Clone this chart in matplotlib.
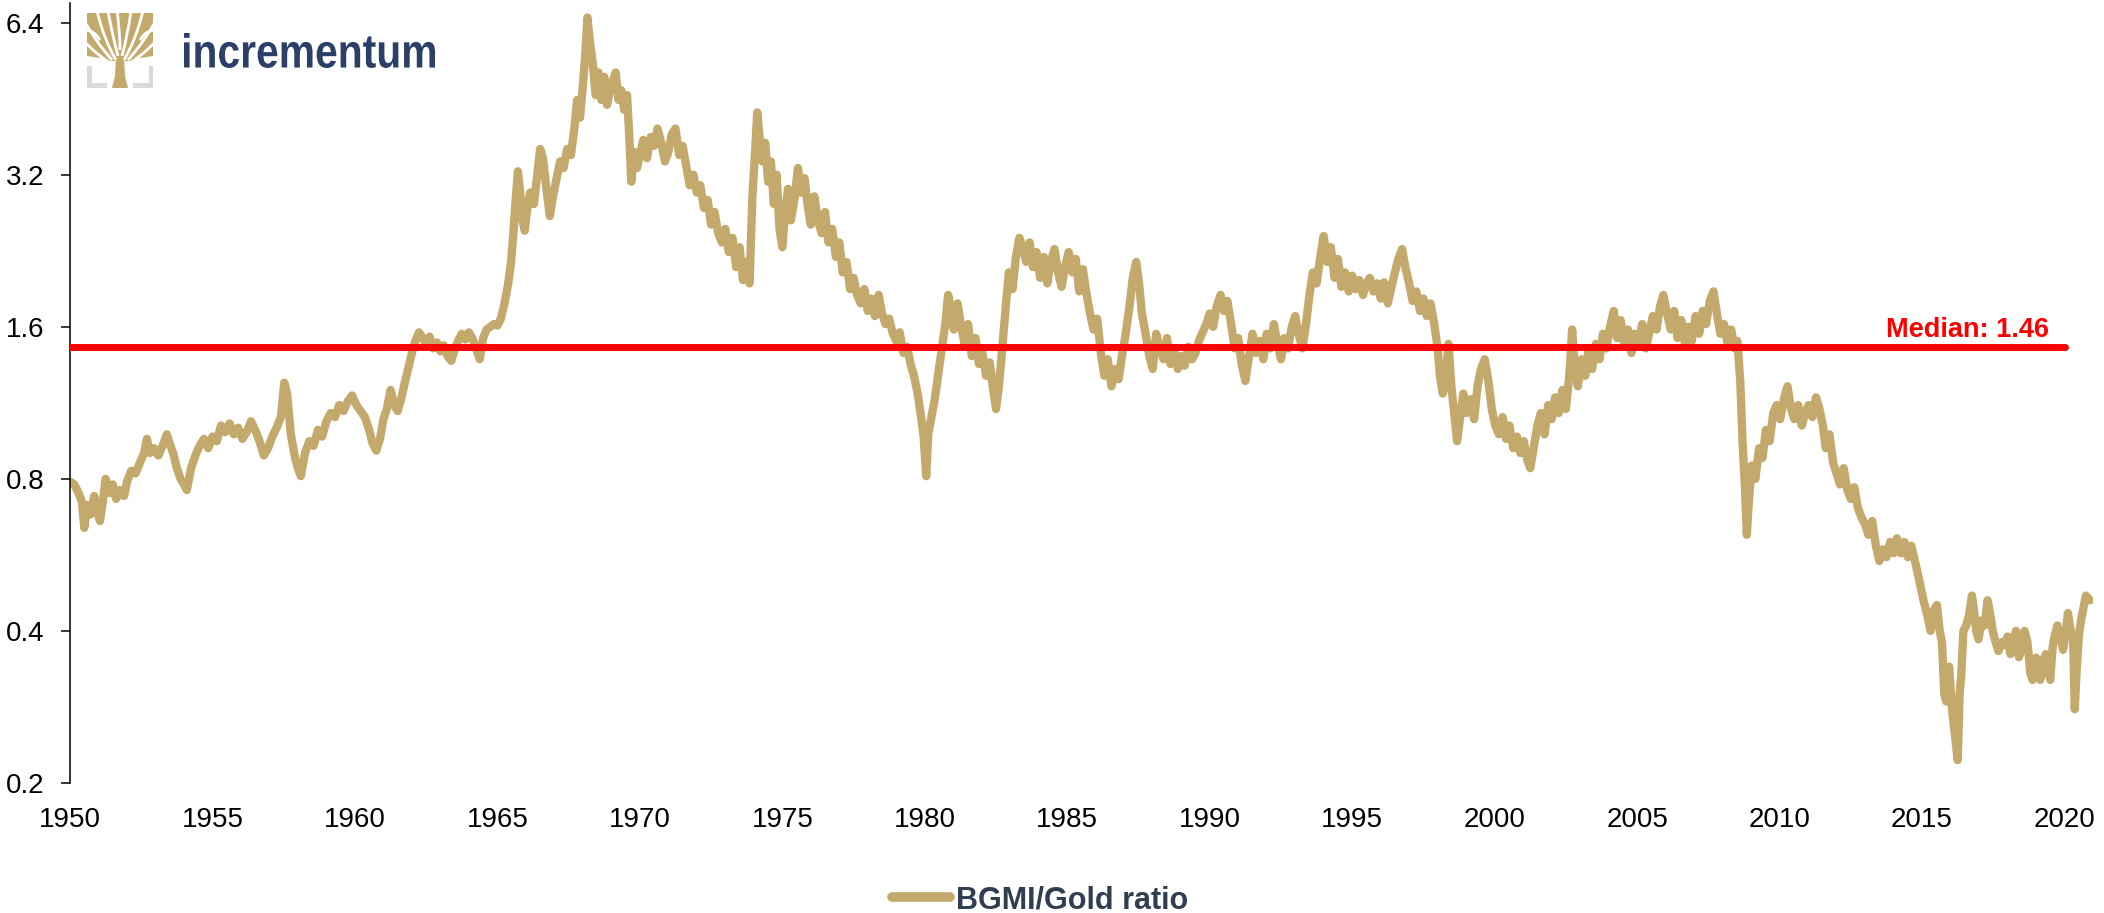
import matplotlib
matplotlib.use('Agg')
import matplotlib.pyplot as plt
from matplotlib.lines import Line2D
from matplotlib.patches import Rectangle, Polygon, PathPatch
from matplotlib.path import Path
from matplotlib.textpath import TextPath
from matplotlib.font_manager import FontProperties
from matplotlib.transforms import Affine2D

# ---------------- data ----------------
dates = [
    1950.0, 1950.15, 1950.3, 1950.42, 1950.5, 1950.6, 1950.72, 1950.85, 1950.95, 1951.05,
    1951.15, 1951.25, 1951.38, 1951.5, 1951.62, 1951.75, 1951.9, 1952.0, 1952.15, 1952.3,
    1952.45, 1952.6, 1952.7, 1952.8, 1952.95, 1953.1, 1953.25, 1953.4, 1953.5, 1953.62,
    1953.75, 1953.88, 1954.0, 1954.1, 1954.25, 1954.4, 1954.55, 1954.7, 1954.85, 1955.0,
    1955.15, 1955.3, 1955.45, 1955.6, 1955.75, 1955.9, 1956.05, 1956.2, 1956.35, 1956.5,
    1956.65, 1956.8, 1956.95, 1957.1, 1957.25, 1957.4, 1957.52, 1957.62, 1957.75, 1957.9,
    1958.0, 1958.1, 1958.25, 1958.4, 1958.55, 1958.7, 1958.85, 1959.0, 1959.15, 1959.3,
    1959.45, 1959.6, 1959.75, 1959.9, 1960.05, 1960.2, 1960.35, 1960.5, 1960.62, 1960.75,
    1960.88, 1961.0, 1961.12, 1961.25, 1961.38, 1961.5, 1961.62, 1961.75, 1961.88, 1962.0,
    1962.12, 1962.25, 1962.38, 1962.5, 1962.62, 1962.75, 1962.88, 1963.0, 1963.12, 1963.25,
    1963.38, 1963.5, 1963.62, 1963.75, 1963.88, 1964.0, 1964.12, 1964.25, 1964.38, 1964.5,
    1964.62, 1964.75, 1964.88, 1965.0, 1965.12, 1965.25, 1965.38, 1965.48, 1965.56, 1965.64,
    1965.72, 1965.8, 1965.88, 1965.96, 1966.05, 1966.15, 1966.28, 1966.4, 1966.5, 1966.6,
    1966.72, 1966.84, 1966.95, 1967.08, 1967.2, 1967.32, 1967.45, 1967.58, 1967.7, 1967.8,
    1967.9, 1968.0, 1968.08, 1968.16, 1968.24, 1968.35, 1968.45, 1968.55, 1968.65, 1968.75,
    1968.85, 1968.95, 1969.05, 1969.15, 1969.25, 1969.35, 1969.45, 1969.55, 1969.62, 1969.7,
    1969.8, 1969.9, 1970.0, 1970.12, 1970.25, 1970.38, 1970.5, 1970.62, 1970.75, 1970.88,
    1971.0, 1971.12, 1971.25, 1971.38, 1971.5, 1971.62, 1971.75, 1971.88, 1972.0, 1972.12,
    1972.25, 1972.38, 1972.5, 1972.62, 1972.75, 1972.88, 1973.0, 1973.12, 1973.25, 1973.38,
    1973.5, 1973.62, 1973.75, 1973.85, 1973.95, 1974.05, 1974.12, 1974.2, 1974.3, 1974.4,
    1974.5, 1974.6, 1974.7, 1974.8, 1974.9, 1975.0, 1975.1, 1975.2, 1975.3, 1975.42,
    1975.55, 1975.65, 1975.78, 1975.9, 1976.0, 1976.12, 1976.25, 1976.38, 1976.5, 1976.62,
    1976.75, 1976.88, 1977.0, 1977.12, 1977.25, 1977.38, 1977.5, 1977.62, 1977.75, 1977.88,
    1978.0, 1978.12, 1978.25, 1978.38, 1978.5, 1978.62, 1978.75, 1978.88, 1979.0, 1979.12,
    1979.25, 1979.38, 1979.5, 1979.62, 1979.75, 1979.88, 1979.96, 1980.05, 1980.12, 1980.22,
    1980.35, 1980.48, 1980.6, 1980.72, 1980.82, 1980.92, 1981.02, 1981.15, 1981.28, 1981.4,
    1981.52, 1981.65, 1981.78, 1981.9, 1982.02, 1982.15, 1982.28, 1982.4, 1982.5, 1982.6,
    1982.72, 1982.84, 1982.95, 1983.08, 1983.2, 1983.32, 1983.44, 1983.56, 1983.68, 1983.8,
    1983.92, 1984.05, 1984.18, 1984.3, 1984.42, 1984.55, 1984.68, 1984.8, 1984.92, 1985.05,
    1985.18, 1985.3, 1985.42, 1985.55, 1985.68, 1985.8, 1985.92, 1986.05, 1986.18, 1986.3,
    1986.42, 1986.55, 1986.68, 1986.8, 1986.92, 1987.05, 1987.18, 1987.3, 1987.42, 1987.52,
    1987.62, 1987.75, 1987.88, 1988.0, 1988.12, 1988.25, 1988.38, 1988.5, 1988.62, 1988.75,
    1988.88, 1989.0, 1989.12, 1989.25, 1989.38, 1989.5, 1989.62, 1989.75, 1989.88, 1990.0,
    1990.12, 1990.25, 1990.38, 1990.5, 1990.62, 1990.75, 1990.88, 1991.0, 1991.12, 1991.25,
    1991.38, 1991.5, 1991.62, 1991.75, 1991.88, 1992.0, 1992.12, 1992.25, 1992.38, 1992.5,
    1992.62, 1992.75, 1992.88, 1993.0, 1993.12, 1993.25, 1993.38, 1993.5, 1993.62, 1993.75,
    1993.88, 1994.0, 1994.12, 1994.25, 1994.38, 1994.5, 1994.62, 1994.75, 1994.88, 1995.0,
    1995.12, 1995.25, 1995.38, 1995.5, 1995.62, 1995.75, 1995.88, 1996.0, 1996.12, 1996.25,
    1996.38, 1996.5, 1996.62, 1996.75, 1996.88, 1997.0, 1997.12, 1997.25, 1997.38, 1997.5,
    1997.62, 1997.75, 1997.88, 1998.0, 1998.08, 1998.18, 1998.28, 1998.38, 1998.48, 1998.58,
    1998.68, 1998.78, 1998.9, 1999.02, 1999.15, 1999.28, 1999.4, 1999.52, 1999.65, 1999.78,
    1999.9, 2000.02, 2000.15, 2000.28, 2000.4, 2000.52, 2000.65, 2000.78, 2000.9, 2001.02,
    2001.15, 2001.25, 2001.38, 2001.5, 2001.62, 2001.75, 2001.88, 2002.0, 2002.12, 2002.25,
    2002.38, 2002.5, 2002.62, 2002.72, 2002.8, 2002.92, 2003.05, 2003.18, 2003.3, 2003.42,
    2003.55, 2003.68, 2003.8, 2003.92, 2004.05, 2004.18, 2004.3, 2004.42, 2004.55, 2004.68,
    2004.8, 2004.92, 2005.05, 2005.18, 2005.3, 2005.42, 2005.55, 2005.68, 2005.8, 2005.92,
    2006.05, 2006.18, 2006.3, 2006.42, 2006.55, 2006.68, 2006.8, 2006.92, 2007.05, 2007.18,
    2007.3, 2007.42, 2007.55, 2007.68, 2007.8, 2007.92, 2008.05, 2008.18, 2008.3, 2008.42,
    2008.52, 2008.62, 2008.7, 2008.78, 2008.85, 2008.92, 2009.02, 2009.15, 2009.28, 2009.4,
    2009.52, 2009.65, 2009.78, 2009.9, 2010.02, 2010.15, 2010.28, 2010.4, 2010.52, 2010.65,
    2010.78, 2010.9, 2011.02, 2011.15, 2011.28, 2011.4, 2011.52, 2011.62, 2011.75, 2011.88,
    2012.0, 2012.12, 2012.25, 2012.38, 2012.5, 2012.62, 2012.75, 2012.88, 2013.0, 2013.12,
    2013.25, 2013.38, 2013.5, 2013.62, 2013.75, 2013.88, 2014.0, 2014.12, 2014.25, 2014.38,
    2014.5, 2014.62, 2014.75, 2014.9, 2015.05, 2015.18, 2015.3, 2015.42, 2015.52, 2015.62,
    2015.7, 2015.78, 2015.85, 2015.95, 2016.05, 2016.15, 2016.25, 2016.32, 2016.38, 2016.45,
    2016.55, 2016.65, 2016.75, 2016.82, 2016.9, 2016.98, 2017.1, 2017.2, 2017.3, 2017.4,
    2017.48, 2017.58, 2017.68, 2017.8, 2017.9, 2018.0, 2018.1, 2018.2, 2018.3, 2018.4,
    2018.5, 2018.6, 2018.7, 2018.8, 2018.88, 2019.0, 2019.08, 2019.15, 2019.25, 2019.35,
    2019.45, 2019.5, 2019.58, 2019.65, 2019.75, 2019.85, 2019.95, 2020.05, 2020.12, 2020.22,
    2020.3, 2020.36, 2020.42, 2020.5, 2020.58, 2020.65, 2020.75, 2020.82, 2020.9,
]

ratio = [
    0.79, 0.78, 0.75, 0.72, 0.64, 0.71, 0.68, 0.74, 0.69, 0.66,
    0.72, 0.80, 0.75, 0.78, 0.73, 0.76, 0.74, 0.79, 0.83, 0.82,
    0.86, 0.90, 0.96, 0.90, 0.92, 0.89, 0.93, 0.98, 0.94, 0.90,
    0.84, 0.80, 0.78, 0.76, 0.84, 0.89, 0.93, 0.96, 0.92, 0.97,
    0.95, 1.02, 0.99, 1.03, 0.98, 1.01, 0.96, 0.99, 1.04, 1.00,
    0.95, 0.89, 0.92, 0.97, 1.01, 1.06, 1.24, 1.18, 0.98, 0.88,
    0.84, 0.81, 0.90, 0.95, 0.93, 1.00, 0.97, 1.04, 1.08, 1.06,
    1.12, 1.09, 1.14, 1.17, 1.12, 1.09, 1.06, 1.00, 0.94, 0.91,
    0.96, 1.05, 1.10, 1.20, 1.12, 1.09, 1.15, 1.24, 1.33, 1.42,
    1.50, 1.56, 1.52, 1.48, 1.53, 1.45, 1.49, 1.43, 1.47, 1.40,
    1.37, 1.44, 1.50, 1.55, 1.51, 1.56, 1.52, 1.45, 1.38, 1.52,
    1.58, 1.60, 1.62, 1.61, 1.66, 1.78, 1.95, 2.15, 2.45, 2.85,
    3.25, 2.95, 2.60, 2.48, 2.75, 2.95, 2.80, 3.20, 3.60, 3.45,
    3.00, 2.65, 2.90, 3.15, 3.40, 3.30, 3.60, 3.50, 3.95, 4.50,
    4.15, 4.80, 5.50, 6.55, 5.90, 5.30, 4.60, 5.10, 4.50, 5.00,
    4.40, 4.70, 4.90, 5.10, 4.50, 4.70, 4.30, 4.60, 3.90, 3.10,
    3.55, 3.30, 3.50, 3.75, 3.45, 3.80, 3.65, 3.95, 3.70, 3.40,
    3.55, 3.85, 3.95, 3.50, 3.65, 3.35, 3.05, 3.20, 2.95, 3.05,
    2.75, 2.85, 2.55, 2.70, 2.45, 2.35, 2.50, 2.25, 2.40, 2.10,
    2.30, 1.98, 2.15, 1.95, 2.90, 3.60, 4.25, 3.80, 3.40, 3.70,
    3.10, 3.40, 2.80, 3.20, 2.50, 2.30, 2.70, 3.00, 2.60, 2.85,
    3.30, 2.95, 3.15, 2.75, 2.55, 2.90, 2.60, 2.45, 2.70, 2.35,
    2.50, 2.20, 2.35, 2.05, 2.15, 1.90, 2.00, 1.85, 1.78, 1.90,
    1.72, 1.82, 1.68, 1.85, 1.70, 1.62, 1.66, 1.55, 1.50, 1.56,
    1.42, 1.46, 1.35, 1.28, 1.18, 1.05, 0.97, 0.81, 0.98, 1.05,
    1.15, 1.30, 1.45, 1.62, 1.85, 1.72, 1.58, 1.78, 1.60, 1.48,
    1.62, 1.40, 1.52, 1.35, 1.42, 1.28, 1.36, 1.20, 1.10, 1.22,
    1.45, 1.75, 2.05, 1.90, 2.20, 2.40, 2.30, 2.15, 2.35, 2.10,
    2.25, 2.00, 2.20, 1.95, 2.15, 2.28, 2.05, 1.92, 2.10, 2.25,
    2.05, 2.18, 1.88, 2.08, 1.85, 1.70, 1.58, 1.66, 1.42, 1.28,
    1.38, 1.22, 1.32, 1.26, 1.40, 1.55, 1.75, 2.00, 2.15, 1.95,
    1.70, 1.55, 1.40, 1.32, 1.55, 1.45, 1.38, 1.52, 1.35, 1.44,
    1.32, 1.40, 1.34, 1.46, 1.38, 1.42, 1.50, 1.56, 1.62, 1.70,
    1.60, 1.76, 1.85, 1.72, 1.80, 1.62, 1.45, 1.52, 1.35, 1.25,
    1.40, 1.55, 1.42, 1.50, 1.38, 1.55, 1.45, 1.62, 1.48, 1.38,
    1.52, 1.45, 1.60, 1.68, 1.55, 1.45, 1.62, 1.85, 2.05, 1.95,
    2.20, 2.42, 2.15, 2.30, 2.00, 2.18, 1.92, 2.05, 1.88, 2.02,
    1.90, 1.98, 1.85, 1.95, 2.00, 1.88, 1.95, 1.82, 1.96, 1.78,
    1.92, 2.05, 2.18, 2.28, 2.08, 1.95, 1.80, 1.88, 1.72, 1.82,
    1.68, 1.78, 1.62, 1.45, 1.28, 1.18, 1.26, 1.48, 1.22, 1.08,
    0.95, 1.05, 1.18, 1.08, 1.15, 1.05, 1.22, 1.32, 1.38, 1.25,
    1.10, 1.02, 0.98, 1.06, 0.96, 1.02, 0.92, 0.97, 0.90, 0.95,
    0.87, 0.84, 0.93, 1.02, 1.08, 0.98, 1.12, 1.05, 1.16, 1.08,
    1.20, 1.10, 1.28, 1.58, 1.35, 1.22, 1.38, 1.28, 1.45, 1.32,
    1.48, 1.38, 1.55, 1.45, 1.60, 1.72, 1.52, 1.65, 1.48, 1.58,
    1.42, 1.55, 1.48, 1.62, 1.45, 1.55, 1.68, 1.58, 1.75, 1.85,
    1.70, 1.58, 1.72, 1.52, 1.65, 1.48, 1.60, 1.50, 1.68, 1.55,
    1.72, 1.62, 1.80, 1.88, 1.70, 1.55, 1.62, 1.48, 1.58, 1.45,
    1.50, 1.25, 0.95, 0.78, 0.62, 0.72, 0.85, 0.80, 0.92, 0.88,
    1.00, 0.95, 1.08, 1.12, 1.05, 1.15, 1.22, 1.10, 1.05, 1.12,
    1.02, 1.08, 1.12, 1.06, 1.16, 1.10, 1.02, 0.92, 0.98, 0.86,
    0.82, 0.78, 0.84, 0.76, 0.73, 0.77, 0.70, 0.67, 0.65, 0.62,
    0.66, 0.59, 0.55, 0.58, 0.56, 0.60, 0.57, 0.61, 0.57, 0.60,
    0.56, 0.59, 0.55, 0.505, 0.46, 0.43, 0.40, 0.44, 0.45, 0.40,
    0.38, 0.30, 0.29, 0.34, 0.28, 0.25, 0.222, 0.30, 0.33, 0.40,
    0.41, 0.43, 0.47, 0.44, 0.40, 0.385, 0.42, 0.41, 0.46, 0.43,
    0.40, 0.38, 0.365, 0.38, 0.375, 0.39, 0.36, 0.38, 0.40, 0.355,
    0.37, 0.40, 0.38, 0.33, 0.32, 0.354, 0.34, 0.32, 0.35, 0.36,
    0.33, 0.32, 0.37, 0.39, 0.41, 0.39, 0.367, 0.40, 0.434, 0.40,
    0.39, 0.28, 0.33, 0.39, 0.42, 0.44, 0.47, 0.465, 0.46,
]

median_value = 1.46
median_span = [1950, 2020]
median_label = "Median: 1.46"
series_label = "BGMI/Gold ratio"
y_ticks = [0.2, 0.4, 0.8, 1.6, 3.2, 6.4]
y_ticklabels = ["0.2", "0.4", "0.8", "1.6", "3.2", "6.4"]
x_ticks = list(range(1950, 2021, 5))
x_ticklabels = [str(y) for y in x_ticks]

# ---------------- styling ----------------
GOLD = '#C4A96C'
RED = '#FF0000'
NAVY = '#2C3F68'
LEGEND_TXT = '#2F3E50'
FONT = 'Liberation Sans'

W, H = 2104, 913
fig = plt.figure(figsize=(W / 100, H / 100), dpi=100)
ax = fig.add_axes([70 / W, 1 - 783 / H, (2093 - 70) / W, (783 - 3) / H])

ax.plot(dates, ratio, color=GOLD, lw=6.0, solid_joinstyle='round',
        solid_capstyle='round', zorder=2)
ax.plot(median_span, [median_value, median_value], color=RED, lw=5,
        solid_capstyle='round', zorder=3)
ax.text(2019.47, 1.527, median_label, ha='right', va='baseline',
        fontsize=19.5, fontweight='bold', color=RED, family=FONT, zorder=4)

ax.set_yscale('log', base=2)
ax.set_ylim(0.2, 7.0)
ax.set_xlim(1950, 2021)
ax.set_yticks(y_ticks)
ax.set_yticklabels(y_ticklabels)
ax.yaxis.set_minor_locator(matplotlib.ticker.NullLocator())
ax.set_xticks(x_ticks)
ax.set_xticklabels(x_ticklabels)

for s in ['top', 'right', 'bottom']:
    ax.spines[s].set_visible(False)
ax.spines['left'].set_linewidth(1.1)
ax.tick_params(axis='y', length=6.5, width=1.1, pad=12, labelsize=20)
ax.tick_params(axis='x', length=0, pad=17, labelsize=20)
for lab in ax.get_xticklabels() + ax.get_yticklabels():
    lab.set_family(FONT)

# legend
handle = Line2D([], [], color=GOLD, lw=7, solid_capstyle='round')
leg = fig.legend([handle], [series_label], loc='center',
                 bbox_to_anchor=(1040 / W, 1 - 900 / H), frameon=False,
                 prop=FontProperties(family=FONT, weight='bold', size=22),
                 handlelength=1.9, handletextpad=0.2, borderpad=0,
                 borderaxespad=0)
for t in leg.get_texts():
    t.set_color(LEGEND_TXT)

# ---------------- logo (pixel coordinates, origin top-left) ----------------
pix = Affine2D().scale(1 / W, -1 / H).translate(0, 1) + fig.transFigure

crown = Rectangle((87, 13), 66, 48, transform=pix, fc=GOLD, ec='none', zorder=10)
fig.patches.append(crown)
trunk = Polygon([(112, 88), (128, 88), (125, 76), (124, 58), (116, 58), (115, 76)],
                closed=True, transform=pix, fc=GOLD, ec='none', zorder=10)
fig.patches.append(trunk)

# white gaps between the branches of the tree crown
gaps = [
    [(116, 60), (104, 40), (97, 11)],
    [(118, 56), (112, 34), (108, 11)],
    [(120, 50), (120, 30), (117, 11)],
    [(122, 56), (128, 34), (131, 11)],
    [(124, 60), (136, 40), (143, 11)],
    [(112, 60), (96, 42), (85, 22)],
    [(128, 60), (144, 42), (155, 22)],
    [(110, 63), (96, 54), (85, 42)],
    [(130, 63), (144, 54), (155, 42)],
    [(100, 40), (94, 30), (85, 30)],
    [(140, 40), (146, 30), (155, 30)],
]
for pts in gaps:
    p = Path(pts, [Path.MOVETO, Path.CURVE3, Path.CURVE3])
    pp = PathPatch(p, transform=pix, fc='none', ec='white', lw=2.0, zorder=11)
    pp.set_clip_path(crown)
    fig.patches.append(pp)
# white area under the crown beside the trunk
for poly in ([(87, 61), (87, 56), (100, 58), (113, 62)],
             [(153, 61), (153, 56), (140, 58), (127, 62)]):
    fig.patches.append(Polygon(poly, closed=True, transform=pix, fc='white',
                               ec='none', zorder=11))

grey = '#DADADA'
for (x, y, w, h) in [(87, 66, 4.5, 22), (87, 83.5, 20, 4.5),
                     (148.5, 66, 4.5, 22), (133, 83.5, 20, 4.5)]:
    fig.patches.append(Rectangle((x, y), w, h, transform=pix, fc=grey,
                                 ec='none', zorder=9))

tp = TextPath((0, 0), "incrementum", size=100,
              prop=FontProperties(family=FONT, weight='bold'))
ext = tp.get_extents()
sx = (435 - 184) / ext.width
sy = (68 - 33) / ext.height
tr = Affine2D().translate(-ext.x0, -ext.y0).scale(sx, -sy).translate(184, 68)
txt_path = tr.transform_path(tp)
fig.patches.append(PathPatch(txt_path, transform=pix, fc=NAVY, ec='none', zorder=10))

fig.savefig('out.png', dpi=100, facecolor='white')
